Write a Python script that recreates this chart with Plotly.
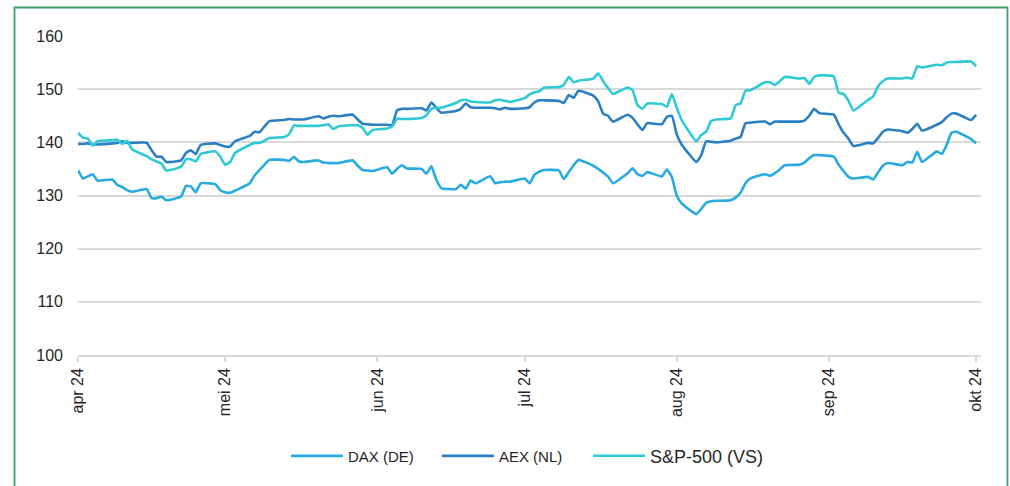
import pandas as pd
import plotly.graph_objects as go

dates = pd.bdate_range("2024-04-01", "2024-10-01")

dax = [
    134.8, 133.2, 133.6, 134.0, 132.8,
    133.0, 132.0, 131.6, 131.0, 130.7,
    131.2, 129.5, 129.5, 129.8, 129.1,
    129.8, 131.8, 131.7, 130.6, 132.3,
    132.1, 131.0, 130.6, 130.5, 130.9,
    132.3, 133.8, 134.8, 135.8, 136.7,
    136.7, 136.5, 137.3, 136.4, 136.3,
    136.6, 136.2, 136.1, 136.1, 136.1,
    136.6, 135.6, 134.8, 134.7, 134.6,
    135.3, 134.1, 135.0, 135.7, 135.1,
    135.0, 134.1, 135.5, 133.0, 131.4,
    131.2, 132.0, 131.3, 132.8, 132.3,
    133.6, 132.3, 132.5, 132.6, 132.6,
    133.2, 132.3, 133.9, 134.5, 134.8,
    134.7, 133.1, 134.4, 135.7, 136.7,
    135.6, 135.0, 134.3, 133.6, 132.3,
    134.2, 135.1, 134.0, 133.7, 134.4,
    133.6, 134.9, 133.5, 130.0, 128.5,
    126.5, 127.5, 128.6, 128.9, 129.0,
    129.1, 129.6, 130.5, 132.3, 133.2,
    134.0, 133.7, 134.2, 134.9, 135.7,
    135.8, 136.2, 137.0, 137.6, 137.6,
    137.3, 135.8, 134.6, 133.5, 133.2,
    133.5, 133.0, 134.3, 135.6, 136.1,
    135.7, 136.3, 136.2, 138.2, 136.3,
    138.3, 137.8, 139.5, 141.8, 142.0,
    140.6, 139.8,
]

aex = [
    139.7, 139.7, 139.8, 139.6, 139.6,
    139.8, 139.9, 140.2, 139.9, 139.9,
    139.9, 138.5, 137.3, 137.3, 136.3,
    136.6, 138.0, 138.5, 137.8, 139.5,
    139.8, 139.5, 139.2, 139.2, 140.2,
    141.2, 142.0, 141.9, 143.0, 144.0,
    144.2, 144.4, 144.3, 144.3, 144.3,
    144.9, 144.5, 144.8, 145.0, 144.9,
    145.2, 144.3, 143.5, 143.4, 143.3,
    143.3, 143.2, 146.0, 146.3, 146.3,
    146.4, 146.0, 147.5, 146.5, 145.6,
    145.9, 146.3, 147.3, 146.6, 146.5,
    146.5, 146.4, 146.2, 146.5, 146.3,
    146.4, 146.6, 147.5, 147.9, 147.9,
    147.8, 147.4, 148.9, 148.4, 149.7,
    148.8, 147.7, 145.4, 145.0, 143.9,
    145.2, 144.6, 143.4, 142.3, 143.6,
    143.4, 144.8, 145.0, 141.5, 139.6,
    136.3, 137.6, 140.2, 140.1, 140.0,
    140.3, 140.7, 141.0, 143.6, 143.7,
    143.9, 143.4, 143.9, 143.9, 143.9,
    143.9, 144.1, 145.0, 146.3, 145.5,
    145.2, 143.4, 141.8, 140.7, 139.3,
    139.9, 139.8, 140.8, 142.0, 142.4,
    142.1, 141.8, 142.5, 143.5, 142.2,
    143.3, 143.8, 144.7, 145.4, 145.4,
    144.2, 145.2,
]

spx = [
    141.8, 140.9, 140.7, 139.4, 140.2,
    140.4, 140.5, 139.7, 140.3, 138.7,
    137.4, 136.8, 136.4, 136.0, 134.7,
    135.4, 136.8, 136.8, 136.4, 137.8,
    138.3, 137.3, 135.8, 136.3, 138.0,
    139.5, 139.9, 139.9, 140.3, 140.8,
    141.0, 141.5, 143.2, 143.1, 143.1,
    143.1, 143.2, 143.4, 142.5, 143.0,
    143.2, 143.2, 142.7, 141.4, 142.3,
    142.6, 143.0, 144.4, 144.4, 144.4,
    144.6, 145.1, 146.3, 146.5, 146.5,
    147.4, 147.9, 148.0, 147.7, 147.6,
    147.5, 147.9, 148.0, 147.8, 147.6,
    148.3, 149.0, 149.4, 149.6, 150.3,
    150.4, 150.8, 152.3, 151.3, 151.6,
    152.0, 153.0, 151.5, 150.2, 149.1,
    150.3, 149.8, 147.0, 146.3, 147.3,
    147.2, 146.7, 149.1, 146.5, 144.2,
    140.2, 141.4, 142.0, 144.0, 144.3,
    144.5, 147.0, 147.3, 149.7, 149.8,
    151.3, 151.3, 150.8, 151.5, 152.3,
    152.0, 152.1, 151.0, 152.3, 152.6,
    152.4, 149.3, 149.1, 147.8, 146.0,
    148.0, 148.6, 150.5, 151.5, 152.0,
    152.0, 152.2, 152.0, 154.3, 154.1,
    154.6, 154.5, 155.0, 155.1, 155.1,
    155.2, 154.3,
]

series_names = ["DAX (DE)", "AEX (NL)", "S&P-500 (VS)"]
series_colors = ["#29abe2", "#2b7fc3", "#2ecbd6"]
legend_ids = ["legend", "legend2", "legend3"]
legend_x = [0.2303, 0.3975, 0.5648]
legend_font_sizes = [15, 15, 18]

tick_dates = ["2024-04-01", "2024-05-01", "2024-06-01", "2024-07-01",
              "2024-08-01", "2024-09-01", "2024-10-01"]
tick_labels = ["apr 24", "mei 24", "jun 24", "jul 24", "aug 24", "sep 24", "okt 24"]
y_ticks = [100, 110, 120, 130, 140, 150, 160]

FONT = "Liberation Sans"

fig = go.Figure()
for name, vals, col, lid in zip(series_names, [dax, aex, spx], series_colors, legend_ids):
    fig.add_trace(go.Scatter(
        x=dates, y=vals, mode="lines", name=name, legend=lid,
        line=dict(color=col, width=2.6, shape="spline", smoothing=0.4),
    ))

legend_layouts = {}
for lid, lx, fs in zip(legend_ids, legend_x, legend_font_sizes):
    legend_layouts[lid] = dict(
        orientation="h", x=lx, xanchor="left", y=-0.317, yanchor="middle",
        font=dict(family=FONT, size=fs, color="#262626"),
        itemwidth=52, bgcolor="rgba(0,0,0,0)",
    )

fig.update_layout(
    width=1010, height=486,
    margin=dict(l=78, r=29, t=36, b=131),
    paper_bgcolor="white", plot_bgcolor="white",
    font=dict(family=FONT, size=15, color="#262626"),
    showlegend=True,
    xaxis=dict(
        type="date", range=["2024-04-01", "2024-10-02"],
        tickvals=tick_dates, ticktext=tick_labels, tickangle=-90,
        showgrid=False, showline=True, linecolor="#d9d9d9", linewidth=1.5,
        ticks="outside", ticklen=5, tickcolor="#d9d9d9", tickwidth=1.5,
        tickfont=dict(family=FONT, size=16, color="#262626"),
        zeroline=False,
    ),
    yaxis=dict(
        range=[100, 160], tickvals=y_ticks,
        showgrid=True, gridcolor="#d9d9d9", gridwidth=1.5,
        showline=False, zeroline=False, ticks="",
        ticklabelstandoff=14,
        tickfont=dict(family=FONT, size=16, color="#262626"),
    ),
    shapes=[dict(type="rect", xref="paper", yref="paper",
                 x0=-0.0703, x1=1.0293, y0=-0.45, y1=1.0893,
                 line=dict(color="#3da06c", width=1.8), fillcolor="rgba(0,0,0,0)",
                 layer="above")],
    **legend_layouts,
)

fig.write_html(
    "out.html",
    config={"displayModeBar": False},
    post_script="document.body.style.margin='0';document.body.style.overflow='hidden';",
)
